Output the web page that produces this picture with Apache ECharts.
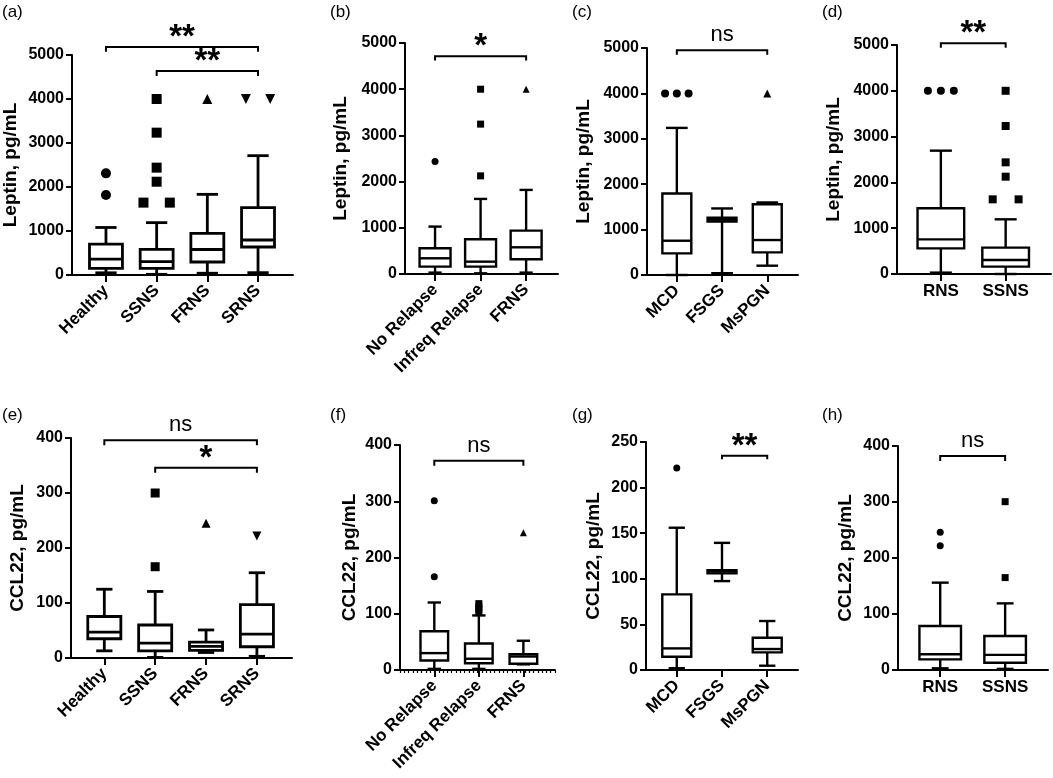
<!DOCTYPE html>
<html><head><meta charset="utf-8">
<script src="https://cdn.jsdelivr.net/npm/echarts@6/dist/echarts.min.js"></script>
<style>html,body{margin:0;padding:0;background:#fff}#c{width:1053px;height:778px}</style>
</head><body><div id="c"></div>
<script>
const FONT = "'Liberation Sans', Arial, sans-serif";

// ---- (a) Leptin by group ----
const catsA = ['Healthy', 'SSNS', 'FRNS', 'SRNS'];
const boxA = [[50, 152, 360, 700, 1080], [15, 152, 303, 583, 1190], [40, 295, 580, 947, 1833], [53, 636, 795, 1530, 2712]];
const circA = [[1, 2310], [1, 1820]];
const sqA = [[2, 4000], [2, 3235], [2, 2440], [2, 2120], [1.74, 1645], [2.26, 1645]];
const triA = [[3, 4000]];
const invA = [[3.76, 4000], [4.24, 4000]];
const sigA = [[1, 4, 5182, 5075, '**'], [2, 4, 4636, 4523, '**']];

// ---- (b) Leptin by relapse ----
const catsB = ['No Relapse', 'Infreq Relapse', 'FRNS'];
const boxB = [[30, 159, 340, 556, 1026], [15, 159, 267, 751, 1625], [30, 318, 578, 939, 1820]];
const circB = [[1, 2435]];
const sqB = [[2, 4000], [2, 3244], [2, 2124]];
const triB = [[3, 4000]];
const sigB = [[1, 3, 4711, 4620, '*']];

// ---- (c) Leptin by histology ----
const catsC = ['MCD', 'FSGS', 'MsPGN'];
const boxC = [[0, 476, 755, 1796, 3240], [40, 1180, 1220, 1260, 1466], [205, 498, 770, 1560, 1598]];
const circC = [[0.74, 4000], [1, 4000], [1.26, 4000]];
const triC = [[3, 4000]];
const sigC = [[1, 3, 4948, 4853, 'ns']];

// ---- (d) Leptin RNS vs SSNS ----
const catsD = ['RNS', 'SSNS'];
const boxD = [[30, 560, 757, 1434, 2693], [0, 160, 306, 575, 1194]];
const circD = [[0.8, 4000], [1, 4000], [1.2, 4000]];
const sqD = [[2, 4000], [2, 3231], [2, 2438], [2, 2125], [1.8, 1630], [2.2, 1630]];
const sigD = [[1, 2, 5036, 4942, '**']];

// ---- (e) CCL22 by group ----
const catsE = ['Healthy', 'SSNS', 'FRNS', 'SRNS'];
const boxE = [[13, 35, 47, 75.5, 125], [1, 13, 27, 60, 121], [10, 14, 21, 29, 51], [3, 20.5, 43.5, 97, 155]];
const sqE = [[2, 300], [2, 166]];
const triE = [[3, 245]];
const invE = [[4, 222]];
const sigE = [[1, 4, 396, 387, 'ns'], [2, 4, 346, 337, '*']];

// ---- (f) CCL22 by relapse ----
const catsF = ['No Relapse', 'Infreq Relapse', 'FRNS'];
const boxF = [[2, 17, 30, 69, 120], [2, 12, 20, 47, 97], [10, 11, 24, 28, 52]];
const circF = [[1, 301], [1, 166]];
const sqF = [[2, 102], [2, 108], [2, 113], [2, 118]];
const triF = [[3, 244]];
const sigF = [[1, 3, 372, 363, 'ns']];

// ---- (g) CCL22 by histology ----
const catsG = ['MCD', 'FSGS', 'MsPGN'];
const boxG = [[2, 14.6, 23.7, 82.9, 156], [97.5, 106, 108, 109.5, 139.4], [4.7, 19.3, 23, 35.4, 53.7]];
const circG = [[1, 221.6]];
const sigG = [[2, 3, 235, 231, '**']];

// ---- (h) CCL22 RNS vs SSNS ----
const catsH = ['RNS', 'SSNS'];
const boxH = [[3, 19, 28, 78.6, 156], [2, 13, 27, 60.7, 119]];
const circH = [[1, 246], [1, 222]];
const sqH = [[2, 300.6], [2, 165]];
const sigH = [[1, 2, 382, 373, 'ns']];

const panels = [
  { tag: '(a)', tagPos: [2, 4], cats: catsA, box: boxA, circ: circA, sq: sqA, tri: triA, inv: invA, sig: sigA,
    grid: { left: 72, top: 55, width: 221, height: 220 }, xMin: 0.33, xMax: 4.69, yMax: 5000, yInt: 1000,
    yName: 'Leptin, pg/mL', nameGap: 52, rotate: 45, half: 0.325, cap: 0.21, sym: 10, lw: 2.8 },
  { tag: '(b)', tagPos: [330, 4], cats: catsB, box: boxB, circ: circB, sq: sqB, tri: triB, sig: sigB,
    grid: { left: 405, top: 43, width: 153, height: 231 }, xMin: 0.34, xMax: 3.7, yMax: 5000, yInt: 1000,
    yName: 'Leptin, pg/mL', nameGap: 55, rotate: 45, half: 0.34, cap: 0.145, sym: 7, lw: 2.4 },
  { tag: '(c)', tagPos: [572, 4], cats: catsC, box: boxC, circ: circC, tri: triC, sig: sigC,
    grid: { left: 647, top: 48, width: 151, height: 227 }, xMin: 0.34, xMax: 3.68, yMax: 5000, yInt: 1000,
    yName: 'Leptin, pg/mL', nameGap: 54, rotate: 45, half: 0.32, cap: 0.24, sym: 8, lw: 2.4 },
  { tag: '(d)', tagPos: [822, 4], cats: catsD, box: boxD, circ: circD, sq: sqD, sig: sigD,
    grid: { left: 897, top: 45, width: 154, height: 229 }, xMin: 0.323, xMax: 2.7, yMax: 5000, yInt: 1000,
    yName: 'Leptin, pg/mL', nameGap: 54, rotate: 0, half: 0.36, cap: 0.17, sym: 8, lw: 2.4 },
  { tag: '(e)', tagPos: [2, 407], cats: catsE, box: boxE, sq: sqE, tri: triE, inv: invE, sig: sigE,
    grid: { left: 71, top: 438, width: 221, height: 220 }, xMin: 0.345, xMax: 4.69, yMax: 400, yInt: 100,
    yName: 'CCL22, pg/mL', nameGap: 44, rotate: 45, half: 0.325, cap: 0.16, sym: 9, lw: 2.8 },
  { tag: '(f)', tagPos: [330, 407], cats: catsF, box: boxF, circ: circF, sq: sqF, tri: triF, sig: sigF,
    grid: { left: 400, top: 445, width: 155, height: 225 }, xMin: 0.23, xMax: 3.71, yMax: 400, yInt: 100,
    yName: 'CCL22, pg/mL', nameGap: 41, rotate: 45, half: 0.31, cap: 0.15, sym: 7, lw: 2.4, minor: 36 },
  { tag: '(g)', tagPos: [572, 407], cats: catsG, box: boxG, circ: circG, sig: sigG,
    grid: { left: 646, top: 442, width: 152, height: 228 }, xMin: 0.32, xMax: 3.68, yMax: 250, yInt: 50,
    yName: 'CCL22, pg/mL', nameGap: 43, rotate: 45, half: 0.32, cap: 0.18, sym: 7, lw: 2.4 },
  { tag: '(h)', tagPos: [822, 407], cats: catsH, box: boxH, circ: circH, sq: sqH, sig: sigH,
    grid: { left: 898, top: 446, width: 150, height: 224 }, xMin: 0.35, xMax: 2.66, yMax: 400, yInt: 100,
    yName: 'CCL22, pg/mL', nameGap: 43, rotate: 0, half: 0.32, cap: 0.13, sym: 7, lw: 2.4 }
];

function boxRender(p) {
  return function (params, api) {
    const x = api.value(0);
    const unit = api.size([1, 0])[0];
    const hw = p.half * unit, cw = p.cap * unit;
    const pMin = api.coord([x, api.value(1)]);
    const pQ1 = api.coord([x, api.value(2)]);
    const pMd = api.coord([x, api.value(3)]);
    const pQ3 = api.coord([x, api.value(4)]);
    const pMax = api.coord([x, api.value(5)]);
    const cx = pMax[0];
    const st = { stroke: '#000', lineWidth: p.lw, fill: null };
    return { type: 'group', children: [
      { type: 'line', shape: { x1: cx, y1: pMax[1], x2: cx, y2: pQ3[1] }, style: st },
      { type: 'line', shape: { x1: cx, y1: pQ1[1], x2: cx, y2: pMin[1] }, style: st },
      { type: 'line', shape: { x1: cx - cw, y1: pMax[1], x2: cx + cw, y2: pMax[1] }, style: st },
      { type: 'line', shape: { x1: cx - cw, y1: pMin[1], x2: cx + cw, y2: pMin[1] }, style: st },
      { type: 'rect', shape: { x: cx - hw, y: pQ3[1], width: 2 * hw, height: pQ1[1] - pQ3[1] },
        style: { stroke: '#000', lineWidth: p.lw, fill: '#fff' } },
      { type: 'line', shape: { x1: cx - hw, y1: pMd[1], x2: cx + hw, y2: pMd[1] }, style: st }
    ] };
  };
}

function sigRender(p) {
  return function (params, api) {
    const s = p.sig[params.dataIndex];
    const a = api.coord([s[0], s[2]]);
    const b = api.coord([s[1], s[2]]);
    const aEnd = api.coord([s[0], s[3]]);
    const isStar = s[4].indexOf('*') >= 0;
    return { type: 'group', children: [
      { type: 'polyline', shape: { points: [[a[0], aEnd[1]], a, b, [b[0], aEnd[1]]] },
        style: { stroke: '#000', lineWidth: 2, fill: null } },
      { type: 'text', style: {
          text: s[4], x: (a[0] + b[0]) / 2, y: a[1] - (isStar ? 9 : 15),
          align: 'center', verticalAlign: 'middle',
          fontFamily: FONT, fontSize: isStar ? 33 : 22, fontWeight: isStar ? 'bold' : 'normal', fill: '#000' } }
    ] };
  };
}

const grid = [], xAxis = [], yAxis = [], series = [], graphic = [];
panels.forEach((p, i) => {
  grid.push(Object.assign({ outerBoundsMode: 'none' }, p.grid));
  const ticks = p.cats.map((c, k) => k + 1);
  xAxis.push({
    gridIndex: i, type: 'value', min: p.xMin, max: p.xMax,
    axisLine: { show: true, onZero: false, lineStyle: { color: '#000', width: 2 } },
    axisTick: { show: true, customValues: ticks, length: 7, lineStyle: { color: '#000', width: 2 } },
    axisLabel: { customValues: ticks, formatter: v => p.cats[Math.round(v) - 1] || '',
      rotate: p.rotate, margin: p.rotate ? 13 : 9, color: '#000', fontFamily: FONT, fontWeight: 'bold', fontSize: 17 },
    splitLine: { show: false }
  });
  yAxis.push({
    gridIndex: i, type: 'value', min: 0, max: p.yMax, interval: p.yInt,
    axisLine: { show: true, lineStyle: { color: '#000', width: 2 } },
    axisTick: { show: true, length: 6, lineStyle: { color: '#000', width: 2 } },
    axisLabel: { formatter: v => String(v), color: '#000', fontFamily: FONT, fontWeight: 'bold', fontSize: 16, margin: 8 },
    splitLine: { show: false },
    name: p.yName, nameLocation: 'middle', nameGap: p.nameGap,
    nameTextStyle: { color: '#000', fontFamily: FONT, fontWeight: 'bold', fontSize: 19 }
  });
  series.push({
    type: 'custom', xAxisIndex: i, yAxisIndex: i, silent: true, clip: false,
    renderItem: boxRender(p), data: p.box.map((b, k) => [k + 1].concat(b)), z: 2
  });
  const mk = (data, symbol, rot) => data && series.push({
    type: 'scatter', xAxisIndex: i, yAxisIndex: i, silent: true, symbol, symbolSize: p.sym,
    symbolRotate: rot || 0, itemStyle: { color: '#000', opacity: 1 }, data, z: 3
  });
  mk(p.circ, 'circle');
  mk(p.sq, 'rect');
  mk(p.tri, 'triangle');
  mk(p.inv, 'triangle', 180);
  series.push({
    type: 'custom', xAxisIndex: i, yAxisIndex: i, silent: true, clip: false,
    renderItem: sigRender(p), data: p.sig.map(s => [s[0], s[2]]), z: 4
  });
  graphic.push({ type: 'text', left: p.tagPos[0], top: p.tagPos[1],
    style: { text: p.tag, fontFamily: FONT, fontSize: 17, fill: '#000' } });
});

// fine hatch ticks along the x axis of panel (f)
panels.forEach((p, i) => {
  if (!p.minor) return;
  xAxis.push({
    gridIndex: i, type: 'value', min: 0, max: p.minor, interval: 1, position: 'bottom',
    axisLine: { show: false }, axisLabel: { show: false }, splitLine: { show: false },
    axisTick: { show: true, length: 3, lineStyle: { color: '#000', width: 1.2 } }
  });
});

const chart = echarts.init(document.getElementById('c'), null, { renderer: 'canvas' });
chart.setOption({ backgroundColor: '#fff', animation: false, grid, xAxis, yAxis, series, graphic });
</script>
</body></html>
